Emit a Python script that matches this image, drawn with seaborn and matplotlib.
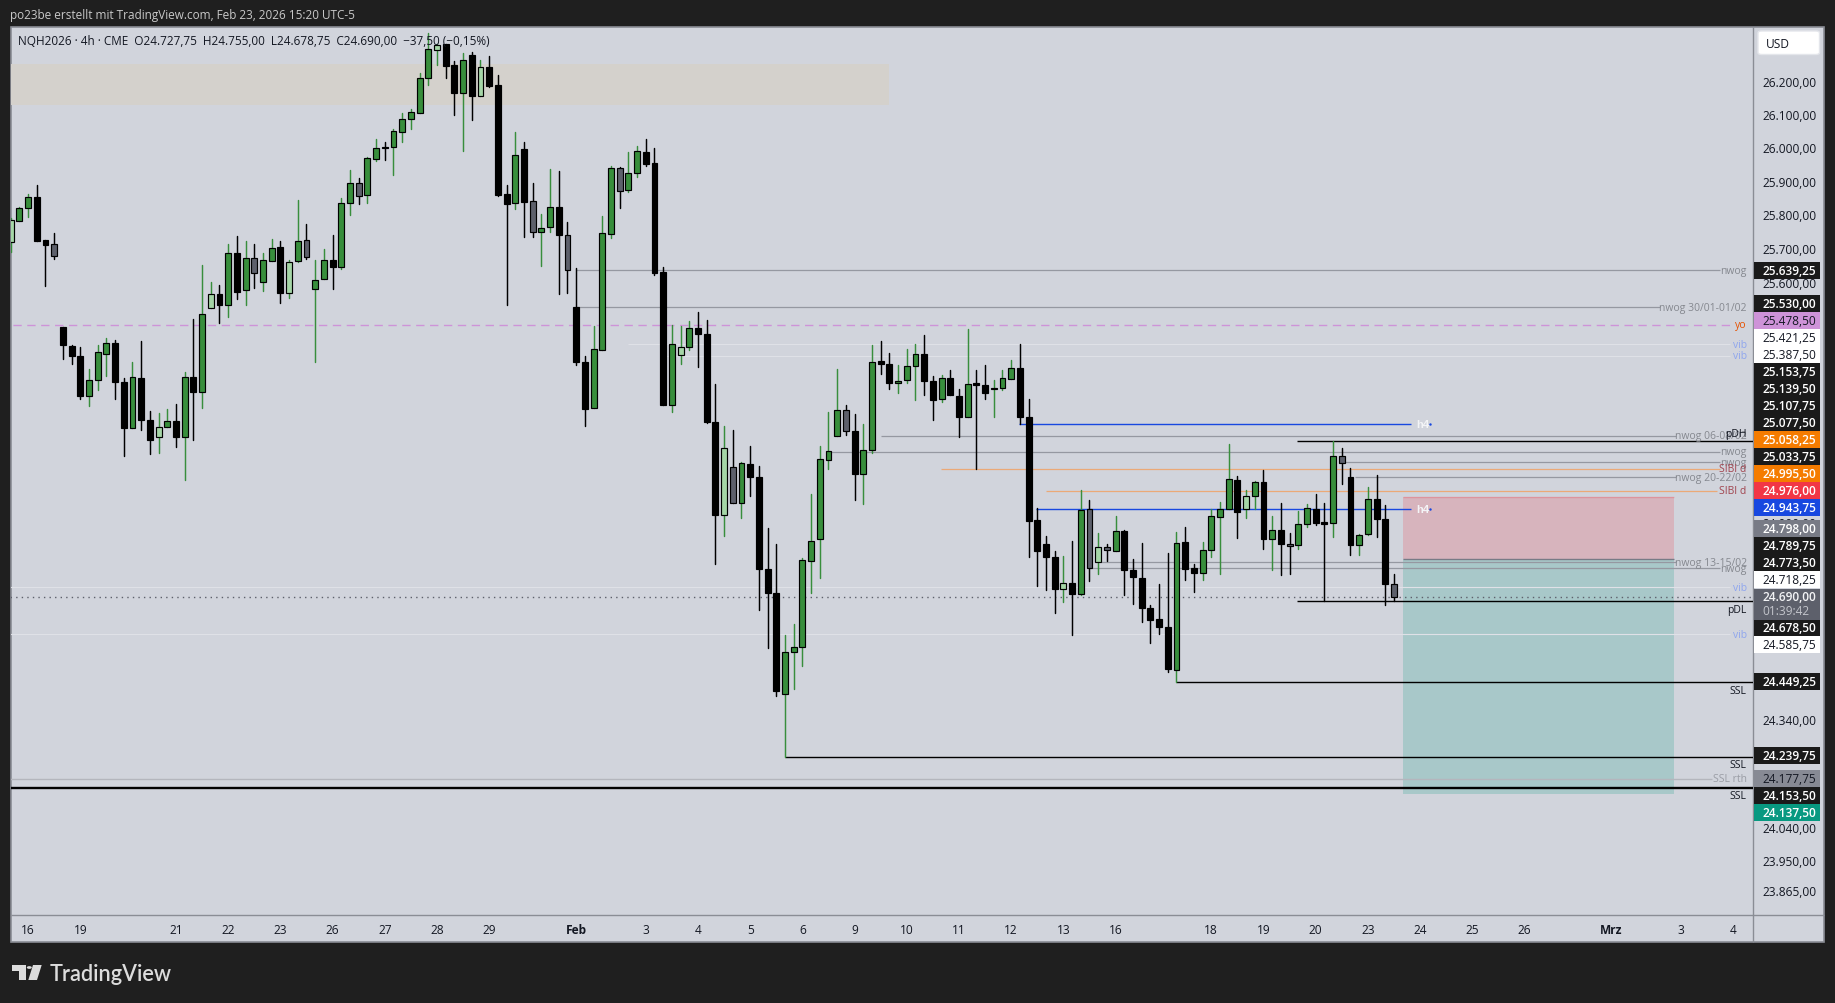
import matplotlib
matplotlib.use("Agg")
import matplotlib.pyplot as plt
from matplotlib.patches import Rectangle, Polygon, Circle, FancyBboxPatch
from matplotlib.ticker import FixedLocator, FixedFormatter, NullLocator
from matplotlib.transforms import ScaledTranslation
import seaborn as sns
import pandas as pd
import numpy as np

W, H = 1835, 1004

# candles, one row per 10 bars
opens = [25722, 25786, 25823, 25856, 25729, 25716, 25472, 25417, 25388, 25269,
         25317, 25394, 25426, 25312, 25176, 25323, 25201, 25151, 25180, 25198,
         25152, 25326, 25283, 25529, 25568, 25537, 25690, 25582, 25674, 25605,
         25667, 25707, 25573, 25667, 25728, 25585, 25612, 25668, 25650, 25838,
         25898, 25862, 25969, 26005, 26005, 26052, 26089, 26109, 26213, 26300,
         26316, 26253, 26169, 26283, 26160, 26247, 26193, 25866, 25838, 26000,
         25844, 25752, 25766, 25826, 25743, 25530, 25369, 25235, 25404, 25745,
         25943, 25876, 25927, 25992, 25959, 25633, 25245, 25389, 25412, 25470,
         25451, 25194, 24925, 25064, 24961, 25073, 25034, 24771, 24702, 24417,
         24534, 24549, 24793, 24856, 25083, 25153, 25230, 25169, 25045, 25112,
         25373, 25363, 25307, 25316, 25357, 25393, 25314, 25260, 25323, 25270,
         25209, 25309, 25303, 25290, 25293, 25319, 25352, 25209, 24912, 24842,
         24805, 24713, 24731, 24699, 24943, 24790, 24834, 24822, 24879, 24768,
         24746, 24660, 24627, 24606, 24485, 24848, 24774, 24759, 24824, 24921,
         24942, 25025, 24944, 24979, 25020, 24856, 24882, 24842, 24839, 24900,
         24944, 24904, 24903, 25097, 25034, 24839, 24870, 24971, 24914, 24727.75]
highs = [25794, 25826, 25866, 25893, 25729, 25750, 25472, 25420, 25413, 25350,
         25420, 25439, 25434, 25323, 25369, 25431, 25227, 25220, 25233, 25247,
         25340, 25496, 25655, 25604, 25595, 25716, 25740, 25725, 25716, 25690,
         25731, 25725, 25668, 25848, 25777, 25669, 25702, 25744, 25854, 25937,
         25914, 25977, 26030, 26021, 26059, 26108, 26120, 26228, 26349, 26316,
         26316, 26264, 26289, 26294, 26268, 26280, 26223, 25893, 26051, 26021,
         25899, 25805, 25940, 25934, 25782, 25646, 25388, 25475, 25801, 25948,
         25947, 25992, 26009, 26031, 26003, 25648, 25478, 25475, 25488, 25516,
         25491, 25305, 25184, 25172, 25079, 25125, 25067, 24889, 24841, 24582,
         24615, 24801, 24986, 25125, 25224, 25350, 25245, 25218, 25189, 25419,
         25431, 25396, 25361, 25408, 25423, 25449, 25327, 25332, 25347, 25290,
         25465, 25346, 25361, 25318, 25346, 25376, 25423, 25262, 24945, 24865,
         24822, 24809, 24851, 24997, 24968, 24875, 24843, 24923, 24883, 24800,
         24846, 24667, 24727, 24817, 24876, 24891, 24785, 24848, 24943, 24963,
         25131, 25038, 24998, 25023, 25056, 24923, 24961, 24875, 24938, 24957,
         24986, 24961, 25139.5, 25119, 25060, 24872, 25006, 25041, 24954, 24755]
lows = [25694, 25786, 25796, 25727, 25593, 25672, 25377, 25364, 25260, 25240,
        25288, 25327, 25262, 25097, 25176, 25172, 25100, 25105, 25180, 25122,
        25027, 25143, 25236, 25527, 25484, 25502, 25554, 25536, 25588, 25579,
        25667, 25542, 25557, 25664, 25672, 25368, 25612, 25584, 25643, 25804,
        25836, 25839, 25965, 25967, 25921, 26021, 26060, 26109, 26194, 26253,
        26214, 26102, 25994, 26088, 26160, 26187, 25860, 25536, 25821, 25738,
        25738, 25652, 25753, 25569, 25572, 25359, 25184, 25235, 25404, 25736,
        25824, 25871, 25915, 25948, 25625, 25245, 25222, 25364, 25404, 25356,
        25190, 24786, 24866, 24961, 24917, 24981, 24655, 24545, 24410, 24239.75,
        24430, 24494, 24703, 24746, 25057, 25153, 25157, 24969, 24958, 25105,
        25335, 25289, 25280, 25309, 25259, 25274, 25201, 25253, 25272, 25150,
        25209, 25057, 25260, 25209, 25287, 25319, 25189, 24805, 24723, 24712,
        24644, 24678, 24583, 24696, 24736, 24757, 24794, 24822, 24696, 24672,
        24620, 24560, 24585, 24478, 24449.25, 24738, 24705, 24738, 24804, 24755,
        24942, 24858, 24917, 24944, 24827, 24767, 24753, 24755, 24829, 24890,
        24898, 24678.5, 24862, 25015, 24810, 24810, 24867, 24862, 24669, 24678.75]
closes = [25787, 25823, 25856, 25727, 25715, 25680, 25418, 25386, 25269, 25317,
          25398, 25425, 25310, 25176, 25325, 25199, 25143, 25180, 25197, 25152,
          25325, 25283, 25510, 25568, 25537, 25689, 25576, 25674, 25630, 25668,
          25704, 25573, 25662, 25725, 25679, 25609, 25668, 25650, 25838, 25898,
          25861, 25972, 26002, 26002, 26053, 26089, 26110, 26213, 26303, 26315,
          26251, 26169, 26267, 26160, 26246, 26191, 25863, 25837, 25981, 25843,
          25752, 25764, 25826, 25742, 25639, 25368, 25231, 25407, 25749, 25943,
          25873, 25928, 25993, 25955, 25632, 25245, 25421, 25412, 25470, 25450,
          25193, 24925, 25118, 24961, 25075, 25034, 24770, 24702, 24426, 24535,
          24549, 24797, 24851, 25086, 25110, 25230, 25167, 25044, 25113, 25369,
          25362, 25307, 25314, 25358, 25393, 25314, 25257, 25323, 25272, 25209,
          25305, 25301, 25278, 25294, 25321, 25351, 25209, 24909, 24821, 24805,
          24714, 24731, 24699, 24940, 24773, 24834, 24824, 24879, 24767, 24747,
          24659, 24625, 24605, 24487, 24845, 24770, 24759, 24825, 24922, 24942,
          25028, 24935, 24980, 25020, 24856, 24882, 24842, 24836, 24900, 24946,
          24902, 24899, 25097, 25076, 24839, 24868, 24971, 24913, 24727, 24690]
# G green, L light green, K black, S slate
kinds = list("LGGKKSKKKG" "GGKKGKKLGK" "GKGLKGKGSG" "GKLGSGGKGG" "SGGKGGGGGL"
             "KKGKLKKKGK" "SGGKSKKGGG" "SGGKKKGLGK" "KKLSGKKKKG" "GGGGGGSKGG"
             "KKGGGKKGKK" "GKKGGGKKKK" "KLKGSLSGKK" "KKKKGKKGGG" "GKLGKGKSGG"
             "KKGSKGGKKS")

# day labels, placed on the bar that opens the day
date_pos = [2, 8, 19, 25, 31, 37, 43, 49, 55, 65, 73, 79, 85, 91, 97, 103, 109, 115,
            121, 127, 138, 144, 150, 156, 162, 168, 174, 184, 192, 198]
date_labels = ["16", "19", "21", "22", "23", "26", "27", "28", "29", "Feb", "3", "4", "5", "6",
               "9", "10", "11", "12", "13", "16", "18", "19", "20", "23", "24", "25", "26",
               "Mrz", "3", "4"]
price_ticks = [26200, 26100, 26000, 25900, 25800, 25700, 25600, 24900, 24340, 24040, 23950, 23865]

# horizontal levels: price, first bar, last bar
gray_levels = [25639.25, 25530, 25153.75, 25107.75, 25077.5, 25033.75, 24789.75, 24773.5]
gray_start = [65, 65, 100, 94, 153, 154.5, 125.3, 124]
gray_end = [196.5, 189.6, 191.4, 196.5, 196.5, 191.4, 191.4, 196.5]
vib_levels = [25421.25, 25387.5, 24718.25, 24585.75]
vib_start = [71, 75, -2, -2]
orange_levels = [25058.25, 24995.5]
orange_start = [106.9, 119]
blue_levels = [25187.5, 24943.75]
blue_start = [115.9, 117.9]
black_levels = [25139.5, 24678.5, 24449.25, 24239.75, 24153.5]
black_start = [147.9, 147.9, 134, 89, -2]
black_widths = [1.0, 1.0, 1.0, 1.0, 1.7]

# price tags on the axis
tag_values = [25639.25, 25530, 25478.5, 25421.25, 25387.5, 25153.75, 25139.5, 25107.75, 25077.5,
              25058.25, 25033.75, 24995.5, 24976, 24943.75, 24798, 24789.75, 24773.5, 24718.25,
              24678.5, 24585.75, 24449.25, 24239.75, 24177.75, 24153.5, 24137.5]
tag_colors = ["k", "k", "#CE93D8", "w", "w", "k", "k", "k", "k",
              "#F57C00", "k", "#F57C00", "#F23645", "#1848E0", "#787B86", "k", "k", "w",
              "k", "w", "k", "k", "#878A94", "k", "#089981"]
tag_y = [271.3, 304.3, 321.5, 338.5, 355.5, 372.5, 389.5, 406.5, 423.5,
         440.5, 457.5, 474.5, 491.5, 508.5, 529.5, 546.5, 563.5, 580.5,
         628.5, 645.5, 682.5, 756.5, 779.5, 796.5, 813.5]

chart_labels = ["nwog", "nwog 30/01-01/02", "yo", "vib", "vib", "nwog 06-08/02", "pDH", "nwog", "nwog",
                "SIBI d", "nwog 20-22/02", "SIBI d", "nwog 13-15/02", "nwog", "vib", "pDL", "vib",
                "SSL", "SSL", "SSL rth", "SSL"]
chart_label_y = [271.5, 308.5, 325.5, 345.5, 356.5, 436.7, 434, 452.7, 463.7,
                 470, 478.7, 491.3, 563.3, 569.3, 588.5, 611, 635, 691.7, 765.7, 780, 796.3]
chart_label_colors = ["#85888F", "#85888F", "#E65100", "#8FA6EE", "#8FA6EE", "#85888F", "#131722", "#85888F",
                      "#85888F", "#A1444E", "#85888F", "#A1444E", "#85888F", "#85888F", "#8FA6EE", "#131722",
                      "#8FA6EE", "#131722", "#131722", "#9A9DA5", "#131722"]

BG = "#D1D4DC"
DARK = "#1F1F1F"
EDGE = "#8A8D95"
FONT = ["Open Sans", "DejaVu Sans"]


def de_price(v):
    return f"{v:,.2f}".replace(",", "#").replace(".", ",").replace("#", ".")


def fx(x):
    return x / W


def fy(y):
    return 1 - y / H


def box(x0, y0, x1, y1, **kw):
    fig.add_artist(Rectangle((fx(x0), fy(y1)), (x1 - x0) / W, (y1 - y0) / H,
                             transform=fig.transFigure, **kw))


sns.set_theme(style="white")
plt.rcParams["font.family"] = FONT

fig = plt.figure(figsize=(W / 100, H / 100), dpi=100, facecolor=DARK)
box(10.5, 27.5, 1824, 943, facecolor=BG, edgecolor=EDGE, linewidth=1.2, zorder=-2)
box(10.5, 916, 1824, 916.01, facecolor=EDGE, edgecolor=EDGE, linewidth=1, zorder=-1)
box(1753, 27.5, 1753.01, 943, facecolor=EDGE, edgecolor=EDGE, linewidth=1, zorder=-1)

ax = fig.add_axes([fx(11), fy(916), 1742 / W, 888 / H], facecolor="none")
ax.set_yscale("log")
ax.set_xlim(0.035, 200.27)
ax.set_ylim(23801.7, 26368.5)
sns.despine(ax=ax, left=True, bottom=True)

df = pd.DataFrame({"bar": np.arange(len(opens)), "open": opens, "high": highs,
                   "low": lows, "close": closes, "kind": kinds})
df["wick"] = df["kind"].map({"G": "up", "L": "up", "K": "down", "S": "down"})

# supply zone and the short position
ax.fill_between([0.035, 100.9], 26131.5, 26257.5, color="#D4D1CC", lw=0, zorder=0.5)
ax.fill_between([160, 191.2], 24798, 24976, color="#F23645", alpha=0.2, lw=0, zorder=0.5)
ax.fill_between([160, 191.2], 24137.5, 24798, color="#089981", alpha=0.2, lw=0, zorder=0.5)
ax.hlines(24976, 160, 191.2, color="#F23645", alpha=0.25, lw=1, zorder=0.6)
ax.hlines(24798, 160, 191.2, color="#787B86", lw=1, zorder=0.6)

# levels
ax.hlines(gray_levels, gray_start, gray_end, color="#9598A1", lw=0.9, zorder=1)
ax.hlines(vib_levels, vib_start, 197.6, color="#DFE1E7", lw=0.8, zorder=1)
ax.hlines(orange_levels, orange_start, [196.5, 196.1], color="#EBA977", lw=0.9, zorder=1)
ax.hlines(blue_levels, blue_start, 161, color="#1848E0", lw=1, zorder=1)
ax.hlines(black_levels, black_start, 200.27, color="black", lw=black_widths, zorder=1)
ax.hlines(25478.5, -2, 198, color="#CE93D8", lw=1, linestyles=(0, (6, 4)), zorder=1)
ax.hlines(24177.75, -2, 195.5, color="#B4B6BD", lw=1, zorder=1)
ax.hlines(24690, -2, 200.27, color="#5D606B", lw=1, linestyles=(0, (1, 3)), zorder=1)

# wicks through seaborn, one short line per bar
wicks = df.melt(id_vars=["bar", "wick"], value_vars=["low", "high"], value_name="price")
sns.lineplot(data=wicks, x="bar", y="price", units="bar", estimator=None, hue="wick", sort=False,
             palette={"up": "#388E3C", "down": "black"}, linewidth=1.05, legend=False, ax=ax,
             zorder=2)

body_colors = df["kind"].map({"G": "#388E3C", "L": "#A5D6A7", "K": "black", "S": "#5D606B"})
ax.bar(df["bar"], (df["close"] - df["open"]).abs(), bottom=df[["open", "close"]].min(axis=1),
       width=0.68, color=body_colors, edgecolor="black", linewidth=0.85, zorder=3)

# h4 tags behind the levels
for lv in blue_levels:
    ax.text(161.6, lv, "h4", color="#F4F5F7", fontsize=8, fontweight="bold", va="center", zorder=4,
            family=["Liberation Sans", "DejaVu Sans"])
    ax.plot([163.1], [lv], marker=".", ms=1.5, color="#1848E0", zorder=4)

ax.set_xticks(date_pos)
ax.set_xticklabels(date_labels, fontsize=8.6, color="#131722")
for lab in ax.get_xticklabels():
    if lab.get_text() in ("Feb", "Mrz"):
        lab.set_fontweight("bold")
ax.tick_params(axis="x", length=0, pad=5.8)
ax.set_xlabel("")
ax.set_ylabel("")
ax.yaxis.tick_right()
ax.yaxis.set_major_locator(FixedLocator(price_ticks))
ax.yaxis.set_major_formatter(FixedFormatter([de_price(v) for v in price_ticks]))
ax.yaxis.set_minor_locator(NullLocator())
ax.tick_params(axis="y", length=0, pad=6.5, labelsize=8.6, labelcolor="#131722")
# price text sits slightly above its level
for tick in ax.yaxis.get_major_ticks():
    tick.label2.set_transform(tick.label2.get_transform() + ScaledTranslation(0, 0.016, fig.dpi_scale_trans))

# right hand texts on the chart
for txt, yy, col in zip(chart_labels, chart_label_y, chart_label_colors):
    fig.text(fx(1746.7), fy(yy), txt, ha="right", va="center", fontsize=7.5, color=col, zorder=6)

# axis tags
for val, yy, col in zip(tag_values, tag_y, tag_colors):
    box(1754, yy - 8.5, 1820, yy + 8.5, facecolor=col, edgecolor="none", zorder=5)
    light = col not in ("w", "#CE93D8", "#878A94")
    fig.text(fx(1762), fy(yy), de_price(val), ha="left", va="center", fontsize=8.6,
             color="white" if light else "#131722", zorder=6,
             fontweight="semibold" if light else "normal")

# last price with countdown
box(1754, 590, 1820, 621, facecolor="#5D606B", edgecolor="none", zorder=5)
fig.text(fx(1762), fy(597.7), de_price(closes[-1]), ha="left", va="center", fontsize=8.6,
         color="#F2F3F5", fontweight="semibold", zorder=6)
fig.text(fx(1762), fy(611.7), "01:39:42", ha="left", va="center", fontsize=8.6, color="#C3C5CB", zorder=6)

# currency box
fig.add_artist(FancyBboxPatch((fx(1758), fy(55.5)), 61.5 / W, 23.5 / H, boxstyle="round,pad=0,rounding_size=0.002",
                              transform=fig.transFigure, facecolor="white", edgecolor="#E4E6EB", lw=1, zorder=5))
fig.text(fx(1766), fy(44.3), "USD", ha="left", va="center", fontsize=8.6, color="#131722", zorder=6)

# header and legend
fig.text(fx(10), fy(15), "po23be erstellt mit TradingView.com, Feb 23, 2026 15:20 UTC-5", ha="left",
         va="center", fontsize=8.45, color="#C9C9C9")
fig.text(fx(18), fy(41.7), "NQH2026 · 4h · CME  O24.727,75  H24.755,00  L24.678,75  C24.690,00  −37,50 (−0,15%)",
         ha="left", va="center", fontsize=8.45, color="#131722", zorder=6)

# logo
LOGO = "#DCDCDC"
box(12, 966, 26, 971.5, facecolor=LOGO, edgecolor="none")
box(18.5, 966, 26, 981, facecolor=LOGO, edgecolor="none")
fig.add_artist(Circle((fx(29.3), fy(968.5)), 2.5 / W, transform=fig.transFigure, facecolor=LOGO, edgecolor="none"))
fig.add_artist(Polygon([(fx(33), fy(966)), (fx(41.7), fy(966)), (fx(37), fy(981)), (fx(28.3), fy(981))],
                       closed=True, transform=fig.transFigure, facecolor=LOGO, edgecolor="none"))
fig.text(fx(49.3), fy(981), "TradingView", ha="left", va="baseline", fontsize=15.6, fontweight="semibold",
         color=LOGO, family=["Lato", "DejaVu Sans"])

fig.savefig("out.png", dpi=100, facecolor=DARK)
